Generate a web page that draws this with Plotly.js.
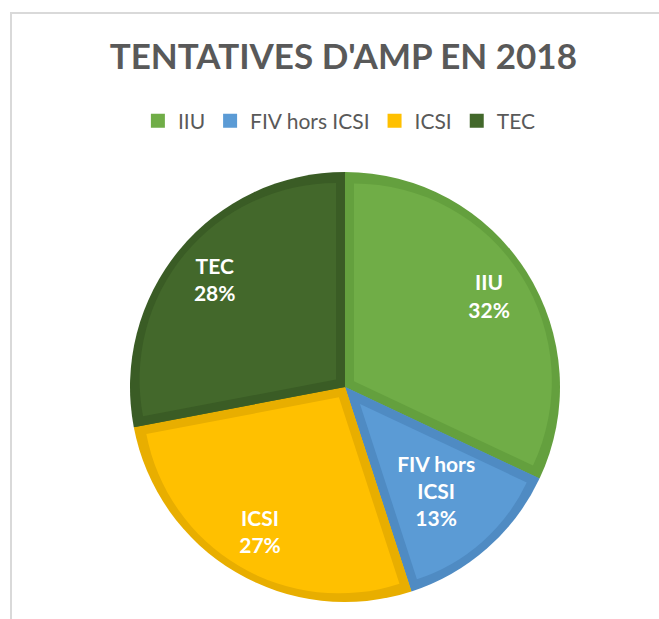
<!DOCTYPE html>
<html>
<head>
<meta charset="utf-8">
<script src="https://cdn.plot.ly/plotly-3.0.1.min.js"></script>
<style>
  html, body { margin: 0; padding: 0; background: #ffffff; }
  #frame { position: absolute; left: 10px; top: 12px; width: 720px; height: 700px;
           border-left: 2px solid #d9d9d9; border-top: 2px solid #d9d9d9; }
  #chart { position: absolute; left: 0; top: 0; width: 659px; height: 619px; }
</style>
</head>
<body>
<div id="frame"></div>
<div id="chart"></div>
<script>
// ---- data ----
const categories = ['IIU', 'FIV hors ICSI', 'ICSI', 'TEC'];
const sliceText = ['IIU', 'FIV hors<br>ICSI', 'ICSI', 'TEC'];
const shares = [32, 13, 27, 28];

// ---- style ----
const fillColors = ['#70AD47', '#5B9BD5', '#FFC000', '#43682B'];
const bandColors = ['#64A03E', '#4F8BC3', '#E8AE00', '#3A5C25'];
const labelPull = [1.22, 0, 0.92, 1.04];     // label offset (pie pull) per slice
const labelDomain = [215, 268, 215, 215];    // label pie radius per slice (px)
const labelShift = [0, 54, 0, 0];            // label pie centre moved back along mid-angle (px)
const CLEAR = 'rgba(0,0,0,0)';

const W = 659, H = 619;
const cx = 345, cy = 387, R = 215, band = 9;
function dom(h, ox, oy) {
  const x0 = cx + (ox || 0), y0 = cy + (oy || 0);
  return { x: [(x0 - h) / W, (x0 + h) / W], y: [(H - y0 - h) / H, (H - y0 + h) / H] };
}

const common = {
  type: 'pie', labels: categories, values: shares, sort: false,
  direction: 'clockwise', rotation: 0, hoverinfo: 'skip', textinfo: 'none'
};

const traces = [];
// legend carrier (light colours, fully covered by the band layer)
traces.push(Object.assign({}, common, {
  domain: dom(R - 2), marker: { colors: fillColors, line: { width: 2, color: fillColors } },
  showlegend: true
}));
// dark band layer
traces.push(Object.assign({}, common, {
  domain: dom(R), marker: { colors: bandColors, line: { width: 0 } }, showlegend: false
}));
// inset light slices
const total = shares.reduce((a, b) => a + b, 0);
const Rb = R - band;
let cum = 0;
const midAngle = shares.map(v => { const m = (cum + v / 2) / total * 2 * Math.PI; cum += v; return m; });
shares.forEach((v, i) => {
  const half = Math.PI * v / total;
  const s = band / Math.sin(half);
  const r = Rb - s * (0.5 + 0.5 * Math.cos(half));
  const p = s / r;
  traces.push(Object.assign({}, common, {
    domain: dom(r + s),
    pull: shares.map((_, j) => j === i ? p : 0),
    marker: { colors: shares.map((_, j) => j === i ? fillColors[i] : CLEAR), line: { width: 0 } },
    showlegend: false
  }));
});
// text layers, one per slice
shares.forEach((v, i) => {
  const ox = -labelShift[i] * Math.sin(midAngle[i]);
  const oy = labelShift[i] * Math.cos(midAngle[i]);
  traces.push(Object.assign({}, common, {
    domain: dom(labelDomain[i], ox, oy),
    pull: shares.map((_, j) => j === i ? labelPull[i] : 0),
    marker: { colors: shares.map(() => CLEAR), line: { width: 0 } },
    showlegend: false, text: sliceText,
    texttemplate: shares.map((_, j) => j === i ? '%{text}<br>%{percent:.0%}' : ''),
    textposition: shares.map((_, j) => j === i ? 'inside' : 'none'),
    insidetextorientation: 'horizontal',
    insidetextfont: { family: 'Lato, sans-serif', size: 21, color: '#ffffff', weight: 'bold' }
  }));
});

const layout = {
  width: W, height: H,
  margin: { l: 0, r: 0, t: 0, b: 0, pad: 0 },
  paper_bgcolor: CLEAR, plot_bgcolor: CLEAR,
  title: {
    text: "TENTATIVES D'AMP EN 2018",
    font: { family: 'Lato, sans-serif', size: 35, color: '#595959', weight: 'bold' },
    x: 0.521, xanchor: 'center', y: 1 - 57 / H, yanchor: 'middle', yref: 'paper'
  },
  showlegend: true,
  legend: {
    orientation: 'h', x: 0.515, xanchor: 'center', y: 1 - 121 / H, yanchor: 'middle',
    font: { family: 'Lato, sans-serif', size: 21, color: '#595959' },
    traceorder: 'normal', itemclick: false, itemdoubleclick: false
  }
};

Plotly.newPlot('chart', traces, layout, { displayModeBar: false, staticPlot: true });
</script>
</body>
</html>
